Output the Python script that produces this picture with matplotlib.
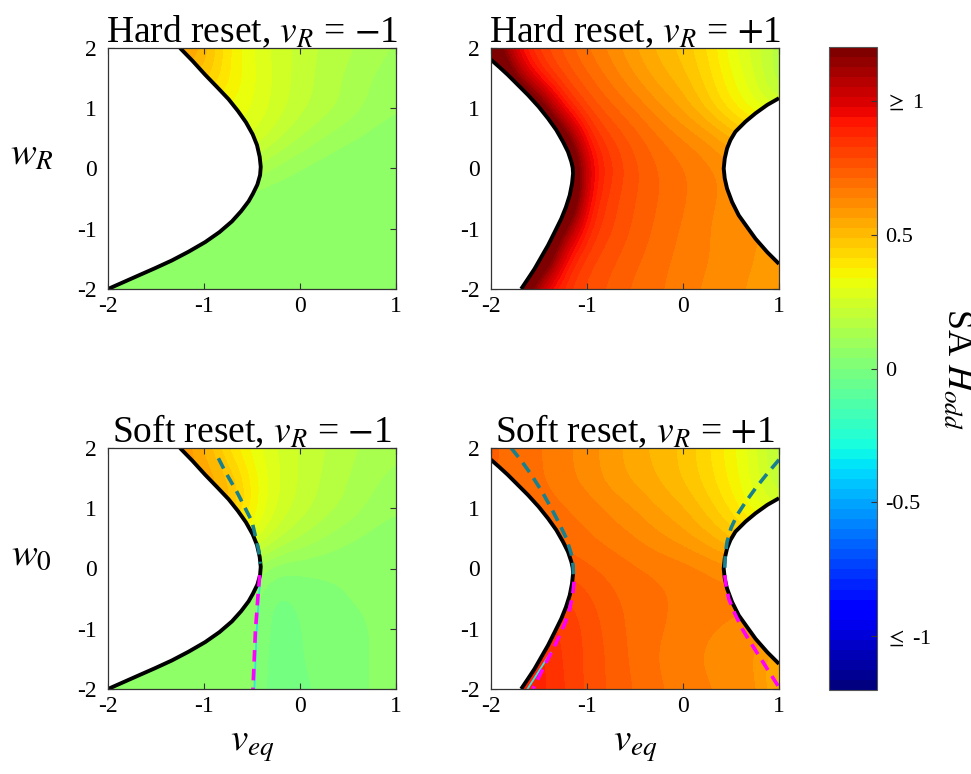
import numpy as np
import matplotlib
matplotlib.use("Agg")
import matplotlib.pyplot as plt
from matplotlib.colors import Normalize
from matplotlib.cm import ScalarMappable

plt.rcParams['font.family'] = ['Liberation Serif', 'DejaVu Serif']
plt.rcParams['mathtext.fontset'] = 'stix'
plt.rcParams['axes.unicode_minus'] = False

# ---------------- data ----------------
v_grid = [-2, -1.75, -1.5, -1.25, -1, -0.75, -0.5, -0.25, 0, 0.25, 0.5, 0.75, 1]
w_grid = [-2, -1.5, -1, -0.5, 0, 0.5, 1, 1.5, 2]

# SA H_odd values, rows = w_grid (bottom to top), cols = v_grid
H_hard_m1 = [
    [0.06, 0.06, 0.06, 0.05, 0.05, 0.05, 0.05, 0.05, 0.05, 0.05, 0.05, 0.05, 0.05],
    [0.05, 0.05, 0.05, 0.05, 0.05, 0.05, 0.05, 0.05, 0.05, 0.05, 0.05, 0.05, 0.05],
    [0.05, 0.05, 0.05, 0.05, 0.05, 0.05, 0.045, 0.045, 0.045, 0.045, 0.045, 0.045, 0.045],
    [0.06, 0.06, 0.06, 0.06, 0.06, 0.06, 0.05, 0.04, 0.04, 0.04, 0.04, 0.04, 0.04],
    [0.15, 0.15, 0.15, 0.15, 0.15, 0.15, 0.15, 0.10, 0.07, 0.05, 0.04, 0.04, 0.04],
    [0.28, 0.28, 0.28, 0.28, 0.28, 0.28, 0.27, 0.20, 0.15, 0.11, 0.08, 0.06, 0.05],
    [0.36, 0.36, 0.36, 0.36, 0.36, 0.34, 0.30, 0.25, 0.20, 0.17, 0.14, 0.10, 0.08],
    [0.50, 0.50, 0.50, 0.50, 0.48, 0.38, 0.31, 0.25, 0.21, 0.17, 0.14, 0.11, 0.09],
    [0.62, 0.62, 0.62, 0.60, 0.52, 0.38, 0.30, 0.25, 0.21, 0.18, 0.16, 0.13, 0.11],
]
H_hard_p1 = [
    [1.60, 1.50, 0.95, 0.84, 0.77, 0.74, 0.70, 0.68, 0.65, 0.63, 0.61, 0.59, 0.57],
    [1.60, 1.60, 1.50, 0.92, 0.80, 0.76, 0.72, 0.69, 0.66, 0.64, 0.62, 0.60, 0.58],
    [1.60, 1.60, 1.60, 1.20, 0.86, 0.79, 0.74, 0.70, 0.67, 0.64, 0.61, 0.60, 0.60],
    [1.60, 1.60, 1.60, 1.60, 0.92, 0.80, 0.75, 0.71, 0.68, 0.65, 0.62, 0.62, 0.62],
    [1.60, 1.60, 1.60, 1.60, 0.98, 0.83, 0.76, 0.71, 0.68, 0.65, 0.62, 0.60, 0.60],
    [1.60, 1.60, 1.60, 1.30, 0.88, 0.79, 0.73, 0.68, 0.64, 0.60, 0.53, 0.48, 0.45],
    [1.60, 1.60, 1.30, 0.90, 0.78, 0.72, 0.67, 0.61, 0.55, 0.47, 0.38, 0.30, 0.25],
    [1.60, 1.15, 0.88, 0.78, 0.72, 0.66, 0.60, 0.54, 0.50, 0.43, 0.34, 0.26, 0.14],
    [1.30, 0.95, 0.80, 0.74, 0.67, 0.62, 0.56, 0.51, 0.47, 0.41, 0.31, 0.24, 0.16],
]
H_soft_m1 = [
    [0.07, 0.07, 0.07, 0.07, 0.07, 0.07, 0.05, -0.04, -0.01, 0.01, 0.03, 0.04, 0.04],
    [0.07, 0.07, 0.07, 0.07, 0.07, 0.07, 0.06, -0.04, 0.00, 0.02, 0.03, 0.04, 0.04],
    [0.07, 0.07, 0.07, 0.07, 0.07, 0.07, 0.06, -0.03, 0.00, 0.02, 0.03, 0.04, 0.04],
    [0.06, 0.06, 0.06, 0.06, 0.06, 0.06, 0.06, -0.02, 0.01, 0.03, 0.04, 0.04, 0.04],
    [0.10, 0.10, 0.10, 0.10, 0.10, 0.10, 0.10, 0.04, 0.04, 0.04, 0.04, 0.04, 0.04],
    [0.38, 0.38, 0.38, 0.38, 0.38, 0.38, 0.30, 0.20, 0.15, 0.11, 0.08, 0.06, 0.05],
    [0.52, 0.52, 0.52, 0.52, 0.52, 0.52, 0.36, 0.26, 0.21, 0.17, 0.14, 0.10, 0.08],
    [0.60, 0.60, 0.60, 0.60, 0.57, 0.50, 0.36, 0.27, 0.22, 0.18, 0.15, 0.12, 0.10],
    [0.62, 0.62, 0.62, 0.60, 0.52, 0.40, 0.32, 0.26, 0.22, 0.19, 0.16, 0.14, 0.12],
]
H_soft_p1 = [
    [0.90, 0.90, 0.88, 0.83, 0.78, 0.74, 0.71, 0.68, 0.66, 0.64, 0.63, 0.62, 0.50],
    [0.90, 0.90, 0.88, 0.82, 0.78, 0.74, 0.70, 0.67, 0.65, 0.63, 0.62, 0.60, 0.50],
    [0.85, 0.85, 0.85, 0.82, 0.78, 0.73, 0.70, 0.68, 0.66, 0.64, 0.63, 0.62, 0.62],
    [0.80, 0.80, 0.80, 0.80, 0.76, 0.72, 0.70, 0.68, 0.67, 0.66, 0.65, 0.65, 0.65],
    [0.74, 0.74, 0.74, 0.74, 0.72, 0.70, 0.68, 0.67, 0.66, 0.64, 0.62, 0.62, 0.62],
    [0.70, 0.70, 0.70, 0.70, 0.68, 0.66, 0.64, 0.61, 0.58, 0.54, 0.48, 0.45, 0.45],
    [0.70, 0.70, 0.70, 0.68, 0.66, 0.63, 0.60, 0.56, 0.53, 0.47, 0.40, 0.30, 0.25],
    [0.72, 0.70, 0.68, 0.65, 0.62, 0.58, 0.55, 0.52, 0.48, 0.43, 0.36, 0.28, 0.18],
    [0.72, 0.70, 0.68, 0.65, 0.62, 0.58, 0.54, 0.51, 0.48, 0.42, 0.35, 0.27, 0.16],
]

# existence boundaries
bnd_m1_v = [-1.250, -1.121, -0.988, -0.863, -0.744, -0.647, -0.563, -0.493, -0.448,
            -0.420, -0.409, -0.416, -0.444, -0.490, -0.535, -0.612, -0.709, -0.839,
            -0.988, -1.163, -1.337, -1.512, -1.686, -1.843, -2.000]
bnd_m1_w = [2.000, 1.789, 1.556, 1.350, 1.150, 0.956, 0.767, 0.567, 0.389,
            0.194, 0.028, -0.111, -0.267, -0.417, -0.544, -0.706, -0.878, -1.056,
            -1.222, -1.383, -1.528, -1.656, -1.778, -1.889, -2.000]
bnd_p1L_v = [-2.000, -1.913, -1.826, -1.721, -1.616, -1.505, -1.407, -1.320, -1.250,
             -1.198, -1.163, -1.149, -1.145, -1.156, -1.180, -1.219, -1.268, -1.337,
             -1.407, -1.477, -1.547, -1.616, -1.686]
bnd_p1L_w = [1.806, 1.683, 1.556, 1.389, 1.222, 1.028, 0.833, 0.639, 0.444,
             0.278, 0.111, 0.011, -0.083, -0.250, -0.444, -0.639, -0.833, -1.056,
             -1.278, -1.472, -1.667, -1.833, -2.000]
bnd_p1R_v = [1.000, 0.878, 0.756, 0.651, 0.546, 0.494, 0.459, 0.435, 0.424,
             0.435, 0.459, 0.511, 0.581, 0.668, 0.756, 0.878, 1.000]
bnd_p1R_w = [1.167, 1.056, 0.917, 0.778, 0.611, 0.472, 0.333, 0.167, 0.000,
             -0.167, -0.333, -0.556, -0.778, -0.972, -1.167, -1.389, -1.583]

# soft-reset bifurcation curves
teal_m1_v = [-0.85, -0.78, -0.66, -0.5, -0.43, -0.415]
teal_m1_w = [1.83, 1.61, 1.28, 0.78, 0.30, 0.08]
mag_m1_v = [-0.42, -0.44, -0.465, -0.49]
mag_m1_w = [-0.11, -0.5, -1.056, -2.0]
cyan_m1_v = [-0.41, -0.43, -0.452, -0.475]
cyan_m1_w = [-0.11, -0.5, -1.056, -2.0]

tealL_p1_v = [-1.79, -1.68, -1.58, -1.47, -1.372, -1.29, -1.215, -1.165, -1.145, -1.14]
tealL_p1_w = [2.0, 1.78, 1.556, 1.28, 1.0, 0.75, 0.5, 0.25, 0.056, -0.17]
magL_p1_v = [-1.135, -1.15, -1.18, -1.225, -1.285, -1.35, -1.425, -1.495, -1.564]
magL_p1_w = [-0.22, -0.45, -0.667, -0.89, -1.111, -1.33, -1.556, -1.78, -2.0]
cyanL_p1_v = [-1.62, -1.5, -1.38]
cyanL_p1_w = [-2.0, -1.7, -1.4]
tealR_p1_v = [1.0, 0.875, 0.756, 0.655, 0.564, 0.5, 0.459, 0.44, 0.435]
tealR_p1_w = [1.806, 1.57, 1.333, 1.11, 0.889, 0.67, 0.444, 0.22, 0.0]
magR_p1_v = [0.435, 0.45, 0.476, 0.54, 0.616, 0.70, 0.79, 0.895, 1.0]
magR_p1_w = [-0.111, -0.3, -0.5, -0.75, -1.0, -1.22, -1.444, -1.71, -1.972]

titles = ['Hard reset, $v_R$ = $-$1', 'Hard reset, $v_R$ = $+$1',
          'Soft reset, $v_R$ = $-$1', 'Soft reset, $v_R$ = $+$1']
cbar_ticks = [-1, -0.5, 0, 0.5, 1]
cbar_labels = [r'$\leq$ -1', '-0.5', '0', '0.5', r'$\geq$ 1']

# ---------------- figure ----------------
W, Hpx = 971, 774
fig = plt.figure(figsize=(W / 100, Hpx / 100), dpi=100)

def rect(x0, y0, x1, y1):
    return [x0 / W, 1 - y1 / Hpx, (x1 - x0) / W, (y1 - y0) / Hpx]

ax_tl = fig.add_axes(rect(108, 48, 396, 289))
ax_tr = fig.add_axes(rect(491, 48, 779, 289))
ax_bl = fig.add_axes(rect(108, 448, 396, 689))
ax_br = fig.add_axes(rect(491, 448, 779, 689))
cax = fig.add_axes(rect(829, 47, 877, 690))

base = plt.get_cmap('jet')
cmap = base.resampled(64)
cmap.set_over(base(1.0))
cmap.set_under(base(0.0))
norm = Normalize(-1.2, 1.2)

teal = '#177f8e'
magenta = '#ff00ff'

dv = (v_grid[1] - v_grid[0]) / 2
dw = (w_grid[1] - w_grid[0]) / 2
extent = [v_grid[0] - dv, v_grid[-1] + dv, w_grid[0] - dw, w_grid[-1] + dw]

def panel(ax, H, title, bounds, dashed, cyan):
    ax.imshow(np.array(H), origin='lower', extent=extent, cmap=cmap, norm=norm,
              interpolation='bicubic', interpolation_stage='data',
              aspect='auto', zorder=1)
    for (bv, bw, side) in bounds:
        if side == 'L':
            ax.fill(list(bv) + [-2.3, -2.3], list(bw) + [-2.3, 2.3],
                    color='white', lw=0, zorder=2)
        else:
            ax.fill(list(bv) + [1.3, 1.3], list(bw) + [-2.3, 2.3],
                    color='white', lw=0, zorder=2)
        ax.plot(bv, bw, color='black', lw=2.8, zorder=4,
                solid_capstyle='butt', solid_joinstyle='round')
    for (cv, cw) in cyan:
        ax.plot(cv, cw, color='#33e6e6', lw=1.3, zorder=3)
    for (dvv, dww, col) in dashed:
        ax.plot(dvv, dww, color=col, lw=2.6, ls=(0, (3.2, 2.0)), zorder=5)
    ax.set_xlim(-2, 1)
    ax.set_ylim(-2, 2)
    ax.set_xticks([-2, -1, 0, 1])
    ax.set_xticklabels(['-2', '-1', '0', '1'])
    ax.set_yticks([-2, -1, 0, 1, 2])
    ax.set_yticklabels(['-2', '-1', '0', '1', '2'])
    ax.tick_params(direction='in', top=True, right=True, length=4,
                   width=0.8, color='#333333', labelsize=17)
    ax.tick_params(axis='y', pad=8)
    ax.tick_params(axis='x', pad=5)
    for s in ax.spines.values():
        s.set_color('#333333')
        s.set_linewidth(0.9)
        s.set_zorder(6)
    ax.set_title(title, fontsize=27, pad=4)

panel(ax_tl, H_hard_m1, titles[0],
      [(bnd_m1_v, bnd_m1_w, 'L')], [], [])
panel(ax_tr, H_hard_p1, titles[1],
      [(bnd_p1L_v, bnd_p1L_w, 'L'), (bnd_p1R_v, bnd_p1R_w, 'R')], [], [])
panel(ax_bl, H_soft_m1, titles[2],
      [(bnd_m1_v, bnd_m1_w, 'L')],
      [(teal_m1_v, teal_m1_w, teal), (mag_m1_v, mag_m1_w, magenta)],
      [(cyan_m1_v, cyan_m1_w)])
panel(ax_br, H_soft_p1, titles[3],
      [(bnd_p1L_v, bnd_p1L_w, 'L'), (bnd_p1R_v, bnd_p1R_w, 'R')],
      [(tealL_p1_v, tealL_p1_w, teal), (magL_p1_v, magL_p1_w, magenta),
       (tealR_p1_v, tealR_p1_w, teal), (magR_p1_v, magR_p1_w, magenta)],
      [(cyanL_p1_v, cyanL_p1_w)])

for ax, lab in ((ax_tl, '$w_R$'), (ax_bl, '$w_0$')):
    ax.set_ylabel(lab, fontsize=28, rotation=0, ha='center', va='center')
    ax.yaxis.set_label_coords(-0.265, 0.555)
for ax in (ax_bl, ax_br):
    ax.set_xlabel('$v_{eq}$', fontsize=28, va='center')
    ax.xaxis.set_label_coords(0.5, -0.235)

sm = ScalarMappable(norm=norm, cmap=cmap)
cb = fig.colorbar(sm, cax=cax)
cb.set_ticks(cbar_ticks)
cb.set_ticklabels(cbar_labels)
cax.tick_params(direction='in', length=4, width=0.8, labelsize=16,
                color='#333333', pad=6)
cb.outline.set_edgecolor('#555555')
cb.outline.set_linewidth(0.8)
cb.set_label('SA $H_{odd}$', fontsize=26, rotation=270, va='center')
cax.yaxis.set_label_coords(2.65, 0.5)

fig.savefig('out.png', dpi=100)
